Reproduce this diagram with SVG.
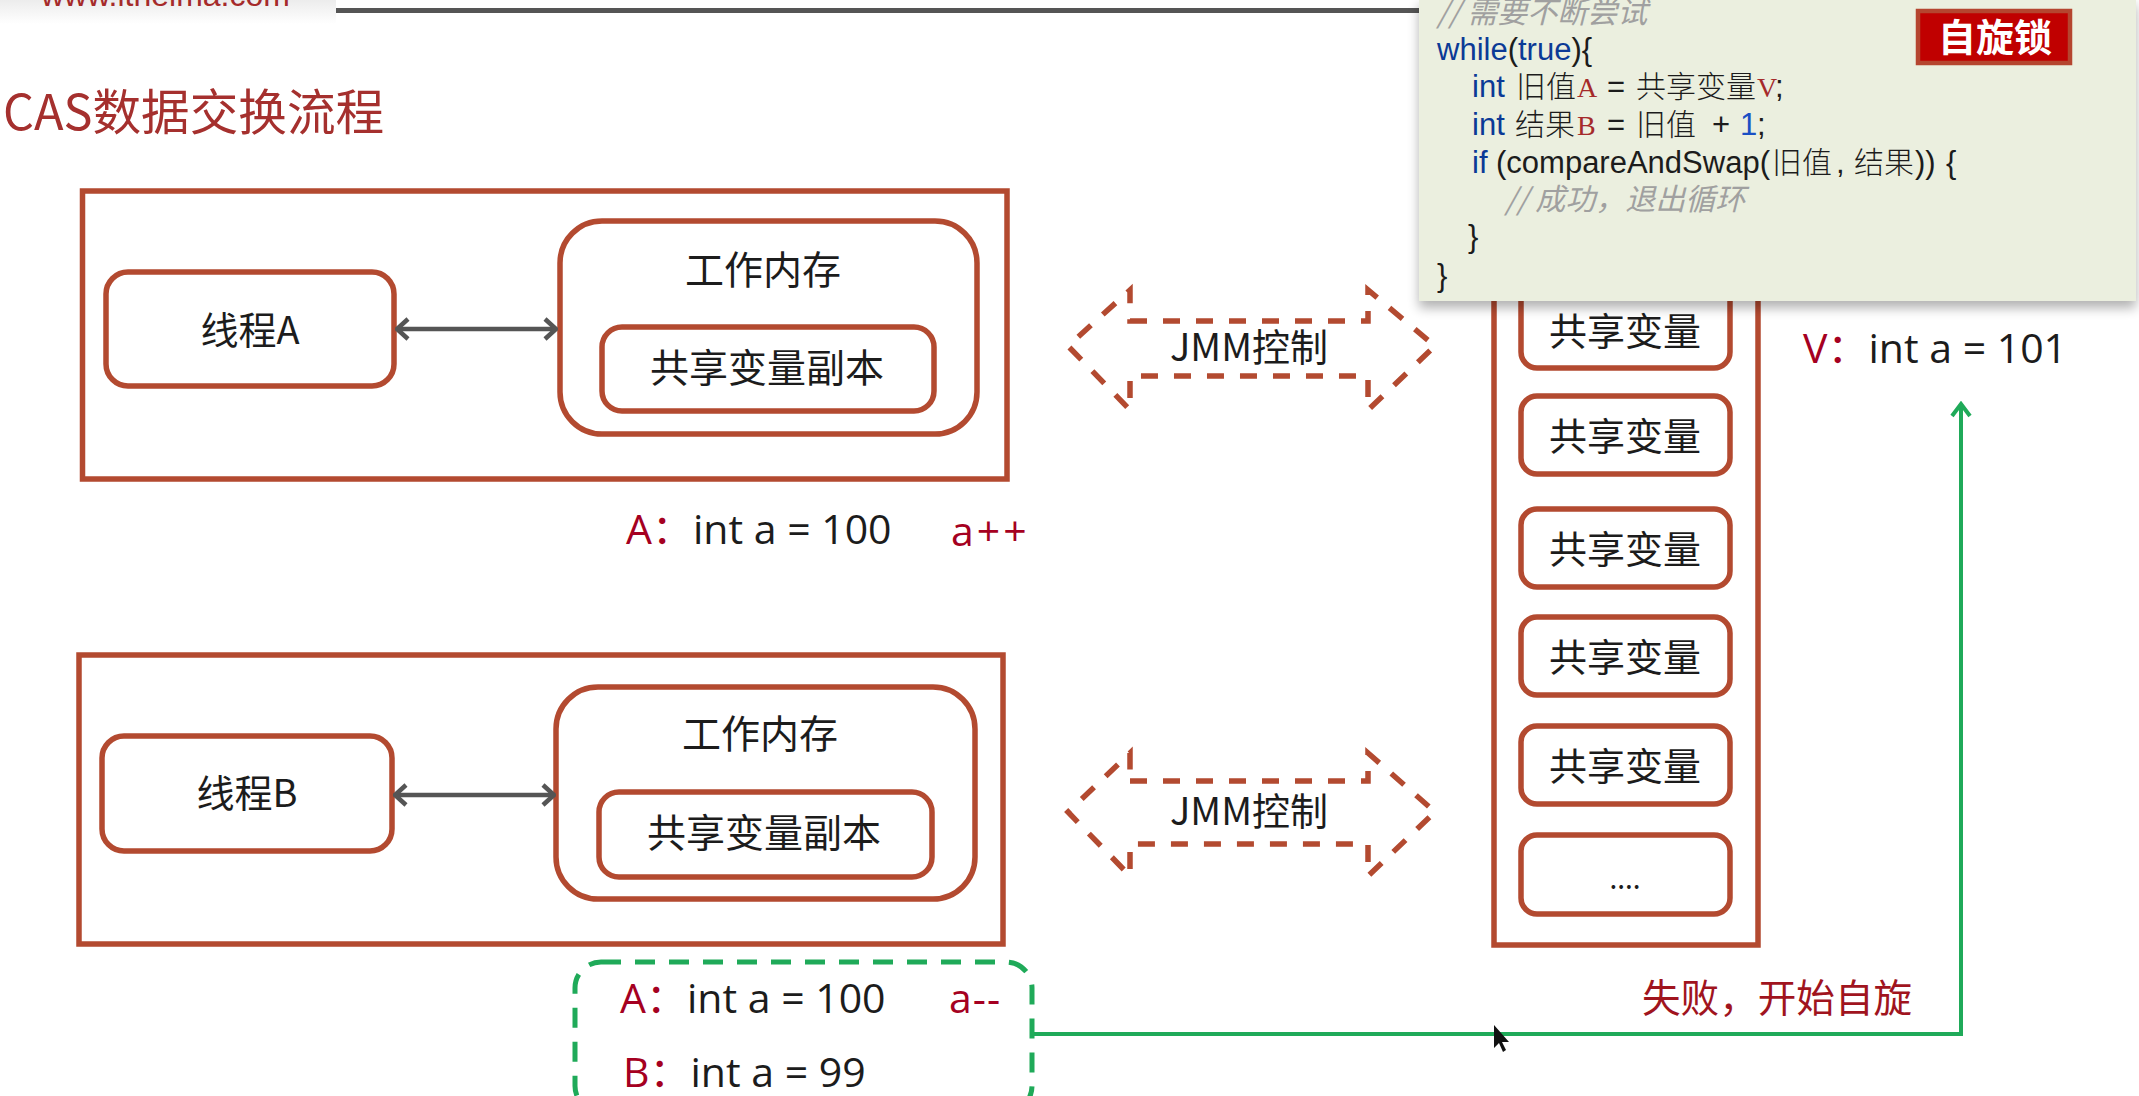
<svg xmlns="http://www.w3.org/2000/svg" width="2139" height="1096" viewBox="0 0 2139 1096">
<defs>
<style>
text{font-family:"Noto Sans CJK SC","Noto Sans",sans-serif;fill:#1c1c1c}
.box{fill:#fff;stroke:#b34a30;stroke-width:5.5}
.t{font-size:39px;text-anchor:middle}
.v{font-size:38px;text-anchor:middle}
.jmm{fill:none;stroke:#b34a30;stroke-width:5.5;stroke-dasharray:17 16}
.dbl{fill:none;stroke:#555;stroke-width:4.5;marker-start:url(#open);marker-end:url(#open)}
.lab{font-size:41px;font-family:"Open Sans","Noto Sans CJK SC",sans-serif}
.red{fill:#a50021}
.code{font-family:"Liberation Sans","Noto Sans CJK SC",sans-serif;font-size:31px}
.cjk{font-family:"Noto Sans CJK SC",sans-serif;font-size:30px;font-weight:300}
.kw{fill:#0b3a96}
.ser{font-family:"Liberation Serif",serif;font-size:28px;fill:#a52a2a}
.cmt{font-family:"Noto Sans CJK SC",sans-serif;font-style:italic;font-size:30px;fill:#a0a0a0}
</style>
<marker id="open" viewBox="0 0 16 24" refX="14" refY="12" markerWidth="16" markerHeight="24" markerUnits="userSpaceOnUse" orient="auto-start-reverse"><path d="M3 2L14 12L3 22" fill="none" stroke="#555" stroke-width="4.5"/></marker>
<marker id="green" viewBox="0 0 24 18" refX="12" refY="3" markerWidth="24" markerHeight="18" markerUnits="userSpaceOnUse" orient="0"><path d="M3 15L12 3L21 15" fill="none" stroke="#1faa59" stroke-width="4"/></marker>
<filter id="sh" x="-5%" y="-5%" width="110%" height="115%"><feGaussianBlur stdDeviation="6"/></filter>
<linearGradient id="hd" x1="0" y1="0" x2="0" y2="1"><stop offset="0" stop-color="#ececec"/><stop offset="1" stop-color="#fff"/></linearGradient>
</defs>
<rect width="2139" height="1096" fill="#fff"/>

<g id="header">
<rect x="0" y="0" width="336" height="24" fill="url(#hd)"/>
<text x="41" y="6" font-size="32" style="fill:#a52a2a;font-family:'Liberation Sans',sans-serif">www.itheima.com</text>
<rect x="336" y="8" width="1090" height="5" fill="#555"/>
</g>
<text id="title" x="3" y="130" font-size="48.6" style="fill:#a5302e">CAS数据交换流程</text>

<g id="threadA-group">
<rect class="box" x="82.5" y="191" width="924.5" height="288"/>
<g id="threadA"><rect class="box" x="106" y="272" width="288" height="114" rx="22"/><text class="t" x="250" y="344" style="font-size:38px">线程A</text></g>
<g id="memA"><rect class="box" x="560" y="221" width="417" height="213" rx="42"/><text class="t" x="763" y="284">工作内存</text></g>
<g id="copyA"><rect class="box" x="602" y="327" width="332" height="84" rx="20"/><text class="t" x="767" y="382">共享变量副本</text></g>
</g>

<g id="threadB-group">
<rect class="box" x="79" y="655" width="924" height="289"/>
<g id="threadB"><rect class="box" x="102" y="736" width="290" height="115" rx="22"/><text class="t" x="247" y="807" style="font-size:38px">线程B</text></g>
<g id="memB"><rect class="box" x="556" y="687" width="419" height="212" rx="42"/><text class="t" x="760" y="748">工作内存</text></g>
<g id="copyB"><rect class="box" x="599" y="792" width="333" height="85" rx="20"/><text class="t" x="764" y="847">共享变量副本</text></g>
</g>

<g id="jmmA"><path class="jmm" d="M1130 321H1368V290L1435 346L1368 410V376H1130V410L1068 346L1130 290Z"/><text class="t" x="1249" y="361" style="font-size:38px">JMM控制</text></g>
<g id="jmmB"><path class="jmm" d="M1130 781H1368V753L1435 812L1368 876V844H1130V876L1068 812L1130 753Z"/><text class="t" x="1249" y="825" style="font-size:38px">JMM控制</text></g>

<g id="mainMemory">
<rect class="box" x="1494" y="200" width="264" height="745"/>
<g id="var1"><rect class="box" x="1521" y="280" width="209" height="88" rx="16"/><text class="v" x="1625" y="345">共享变量</text></g>
<g id="var2"><rect class="box" x="1521" y="396" width="209" height="78" rx="16"/><text class="v" x="1625" y="450">共享变量</text></g>
<g id="var3"><rect class="box" x="1521" y="509" width="209" height="78" rx="16"/><text class="v" x="1625" y="563">共享变量</text></g>
<g id="var4"><rect class="box" x="1521" y="617" width="209" height="78" rx="16"/><text class="v" x="1625" y="671">共享变量</text></g>
<g id="var5"><rect class="box" x="1521" y="726" width="209" height="78" rx="16"/><text class="v" x="1625" y="780">共享变量</text></g>
<g id="var6"><rect class="box" x="1521" y="835" width="209" height="79" rx="16"/><text class="v" x="1625" y="889" style="font-size:28px">....</text></g>
</g>

<g id="labelA"><text class="lab" x="626" y="544"><tspan class="red">A：</tspan>int a = 100</text><text class="lab red" x="951" y="546" letter-spacing="3">a++</text></g>
<g id="labelV"><text class="lab" x="1803" y="363"><tspan class="red">V：</tspan>int a = 101</text></g>

<g id="connectors">
<path class="dbl" d="M397 329H556"/>
<path class="dbl" d="M395 795H554"/>
<path d="M1032 1034H1961V404" fill="none" stroke="#1faa59" stroke-width="4" marker-end="url(#green)"/>
</g>

<g id="failGroup">
<rect x="575" y="962" width="457" height="150" rx="26" fill="none" stroke="#1faa59" stroke-width="5" stroke-dasharray="20 14"/>
<text class="lab" x="620" y="1013"><tspan class="red">A：</tspan>int a = 100</text>
<text class="lab red" x="949" y="1013" letter-spacing="1">a--</text>
<text class="lab" x="623" y="1087"><tspan class="red">B：</tspan>int a = 99</text>
</g>
<text id="failText" x="1642" y="1012" font-size="38.6" style="fill:#a0141e">失败，开始自旋</text>
<path id="cursor" d="M1494 1025V1048L1499 1043L1503 1052L1506 1050L1502 1042H1509Z" fill="#111"/>

<g id="codePanel">
<rect x="1419" y="5" width="717" height="303" fill="#000" opacity=".3" filter="url(#sh)"/>
<rect x="1419" y="0" width="717" height="301" fill="#ebefdf"/>
<text class="cmt" x="1437" y="23">// 需要不断尝试</text>
<text class="code" x="1437" y="60"><tspan class="kw">while</tspan>(<tspan class="kw">true</tspan>){</text>
<text class="code kw" x="1472" y="97">int</text><text class="cjk" x="1516" y="97">旧值</text><text class="ser" x="1577" y="97">A</text><text class="code" x="1607" y="97">=</text><text class="cjk" x="1636" y="97">共享变量</text><text class="ser" x="1757" y="97">V</text><text class="code" x="1775" y="97">;</text>
<text class="code kw" x="1472" y="135">int</text><text class="cjk" x="1515" y="135">结果</text><text class="ser" x="1577" y="135">B</text><text class="code" x="1607" y="135">=</text><text class="cjk" x="1636" y="135">旧值</text><text class="code" x="1712" y="135">+</text><text class="code" x="1740" y="135" style="fill:#1a4fc4">1</text><text class="code" x="1757" y="135">;</text>
<text class="code kw" x="1472" y="173">if</text><text class="code" x="1496" y="173">(compareAndSwap(</text><text class="cjk" x="1772" y="173">旧值</text><text class="code" x="1836" y="173">,</text><text class="cjk" x="1854" y="173">结果</text><text class="code" x="1915" y="173">))</text><text class="code" x="1946" y="173">{</text>
<text class="cmt" x="1505" y="210">// 成功，退出循环</text>
<text class="code" x="1468" y="247">}</text>
<text class="code" x="1437" y="286">}</text>
</g>
<g id="badge"><rect x="1918" y="11" width="152" height="52" fill="#c00000" stroke="#b5452f" stroke-width="4.5"/><text x="1995" y="51" font-size="38" font-weight="700" text-anchor="middle" style="fill:#fff">自旋锁</text></g>
</svg>
